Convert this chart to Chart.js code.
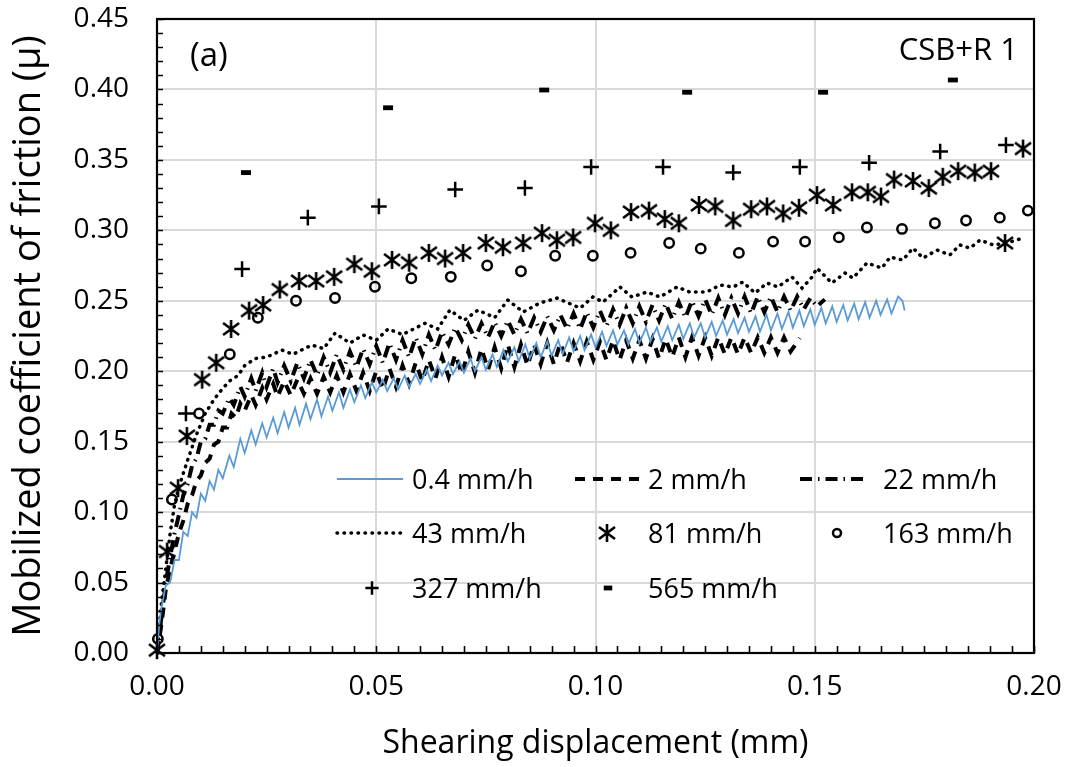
<!DOCTYPE html>
<html>
<head>
<meta charset="utf-8">
<script src="https://cdn.jsdelivr.net/npm/chart.js@4.4.1/dist/chart.umd.min.js"></script>
<style>
  html, body { margin: 0; padding: 0; background: #fff; }
  #chart { display: block; }
</style>
</head>
<body>
<canvas id="chart" width="1069" height="767"></canvas>
<script>
// rate labels
const rateLabels = ['0.4 mm/h', '2 mm/h', '22 mm/h', '43 mm/h', '81 mm/h', '163 mm/h', '327 mm/h', '565 mm/h'];

// 0.4 mm/h (blue, stick-slip sawtooth) [x, mu]
const rate04 = [[0, 0], [0.0005, 0.020], [0.001, 0.032], [0.002, 0.048], [0.003, 0.050], [0.004, 0.066], [0.005, 0.066],
    [0.006, 0.086], [0.007, 0.083], [0.008, 0.100], [0.009, 0.096], [0.010, 0.113], [0.011, 0.108], [0.012, 0.122],
    [0.013, 0.116], [0.014, 0.130], [0.015, 0.124], [0.0165, 0.140], [0.0175, 0.132], [0.019, 0.152], [0.020, 0.142],
    [0.0215, 0.158], [0.0225, 0.148], [0.024, 0.163], [0.025, 0.153], [0.0265, 0.167], [0.0275, 0.156], [0.029, 0.171],
    [0.030, 0.160], [0.0315, 0.174], [0.0325, 0.162], [0.034, 0.177], [0.035, 0.166], [0.0365, 0.180], [0.0375, 0.168],
    [0.039, 0.182], [0.040, 0.172], [0.0415, 0.185], [0.0425, 0.174], [0.044, 0.187], [0.045, 0.178], [0.0465, 0.190],
    [0.0475, 0.181], [0.049, 0.192], [0.050, 0.185], [0.0515, 0.194], [0.0525, 0.186], [0.054, 0.195], [0.055, 0.187],
    [0.0565, 0.197], [0.0575, 0.189], [0.059, 0.198], [0.060, 0.191], [0.0615, 0.201], [0.0625, 0.193], [0.064, 0.204],
    [0.065, 0.197], [0.0665, 0.206], [0.0675, 0.198], [0.069, 0.207], [0.070, 0.199], [0.0715, 0.209], [0.0725, 0.200],
    [0.074, 0.210], [0.075, 0.201], [0.0765, 0.212], [0.0775, 0.203], [0.079, 0.215], [0.080, 0.207], [0.0815, 0.217],
    [0.0825, 0.207], [0.084, 0.219], [0.085, 0.209], [0.0865, 0.220], [0.0875, 0.210], [0.089, 0.221], [0.090, 0.211],
    [0.0915, 0.222], [0.0925, 0.212], [0.094, 0.224], [0.095, 0.214], [0.0965, 0.225], [0.0975, 0.215], [0.099, 0.226],
    [0.100, 0.217], [0.1015, 0.228], [0.1025, 0.218], [0.104, 0.229], [0.105, 0.219], [0.1065, 0.229], [0.1075, 0.219],
    [0.109, 0.230], [0.110, 0.220], [0.1115, 0.231], [0.1125, 0.221], [0.114, 0.231], [0.115, 0.221], [0.1165, 0.232],
    [0.1175, 0.222], [0.119, 0.233], [0.120, 0.223], [0.1215, 0.234], [0.1225, 0.224], [0.124, 0.234], [0.125, 0.224],
    [0.1265, 0.235], [0.1275, 0.225], [0.129, 0.236], [0.130, 0.226], [0.1315, 0.237], [0.1325, 0.227], [0.134, 0.238],
    [0.135, 0.228], [0.1365, 0.239], [0.1375, 0.228], [0.139, 0.240], [0.140, 0.229], [0.1415, 0.241], [0.1425, 0.230],
    [0.144, 0.242], [0.145, 0.231], [0.1465, 0.243], [0.1475, 0.232], [0.149, 0.244], [0.150, 0.233], [0.1515, 0.245],
    [0.1525, 0.234], [0.154, 0.246], [0.155, 0.235], [0.1565, 0.247], [0.1575, 0.236], [0.159, 0.248], [0.160, 0.237],
    [0.1615, 0.249], [0.1625, 0.238], [0.164, 0.250], [0.165, 0.240], [0.1665, 0.251], [0.1675, 0.241], [0.169, 0.253],
    [0.170, 0.250], [0.1705, 0.243]];

// 2 mm/h (dashed)
const rate2 = [[0, 0], [0.001, 0.020], [0.002, 0.045], [0.003, 0.060], [0.004, 0.072], [0.005, 0.085], [0.006, 0.094],
    [0.007, 0.106], [0.008, 0.112], [0.009, 0.122], [0.010, 0.126], [0.011, 0.135], [0.012, 0.138], [0.013, 0.148],
    [0.014, 0.150], [0.015, 0.160], [0.016, 0.160], [0.017, 0.170], [0.018, 0.167], [0.019, 0.177], [0.020, 0.172],
    [0.0215, 0.183], [0.0225, 0.176], [0.024, 0.188], [0.025, 0.180], [0.0265, 0.191], [0.0275, 0.182], [0.029, 0.193],
    [0.0305, 0.183], [0.032, 0.194], [0.0335, 0.184], [0.035, 0.195], [0.0365, 0.184], [0.038, 0.196], [0.0395, 0.185],
    [0.041, 0.197], [0.0425, 0.185], [0.044, 0.198], [0.0455, 0.186], [0.047, 0.199], [0.0485, 0.186], [0.050, 0.200],
    [0.0515, 0.187], [0.053, 0.202], [0.0545, 0.189], [0.056, 0.204], [0.0575, 0.191], [0.059, 0.206], [0.0605, 0.193],
    [0.062, 0.208], [0.0635, 0.195], [0.065, 0.210], [0.0665, 0.196], [0.068, 0.212], [0.0695, 0.198], [0.071, 0.214],
    [0.0725, 0.199], [0.074, 0.216], [0.0755, 0.201], [0.077, 0.217], [0.0785, 0.202], [0.080, 0.219], [0.0815, 0.203],
    [0.083, 0.219], [0.0845, 0.204], [0.086, 0.219], [0.0875, 0.205], [0.089, 0.220], [0.0905, 0.205], [0.092, 0.220],
    [0.0935, 0.206], [0.095, 0.220], [0.0965, 0.207], [0.098, 0.221], [0.0995, 0.208], [0.101, 0.221], [0.1025, 0.208],
    [0.104, 0.222], [0.1055, 0.208], [0.107, 0.222], [0.1085, 0.209], [0.110, 0.222], [0.1115, 0.209], [0.113, 0.223],
    [0.1145, 0.209], [0.116, 0.223], [0.1175, 0.210], [0.119, 0.224], [0.1205, 0.210], [0.122, 0.224], [0.1235, 0.211],
    [0.125, 0.224], [0.1265, 0.211], [0.128, 0.224], [0.1295, 0.212], [0.131, 0.224], [0.1325, 0.212], [0.134, 0.224],
    [0.1355, 0.213], [0.137, 0.224], [0.1385, 0.213], [0.140, 0.224], [0.1415, 0.213], [0.143, 0.224], [0.1445, 0.214],
    [0.1466, 0.2235]];

// 22 mm/h (dash-dot)
const rate22 = [[0, 0], [0.001, 0.025], [0.002, 0.050], [0.003, 0.068], [0.004, 0.085], [0.005, 0.098], [0.006, 0.112],
    [0.007, 0.120], [0.008, 0.133], [0.009, 0.138], [0.010, 0.150], [0.011, 0.152], [0.012, 0.162], [0.013, 0.162],
    [0.014, 0.172], [0.015, 0.170], [0.0165, 0.181], [0.0175, 0.176], [0.019, 0.189], [0.020, 0.182], [0.0215, 0.195],
    [0.0225, 0.186], [0.024, 0.199], [0.025, 0.189], [0.0265, 0.202], [0.0275, 0.192], [0.029, 0.204], [0.0305, 0.193],
    [0.032, 0.206], [0.0335, 0.195], [0.035, 0.208], [0.0365, 0.197], [0.038, 0.210], [0.0395, 0.199], [0.041, 0.212],
    [0.0425, 0.201], [0.044, 0.214], [0.0455, 0.203], [0.047, 0.216], [0.0485, 0.205], [0.050, 0.218], [0.0515, 0.206],
    [0.053, 0.220], [0.0545, 0.208], [0.056, 0.222], [0.0575, 0.210], [0.059, 0.224], [0.0605, 0.212], [0.062, 0.226],
    [0.0635, 0.215], [0.065, 0.228], [0.0665, 0.219], [0.068, 0.231], [0.0695, 0.222], [0.071, 0.233], [0.0725, 0.223],
    [0.074, 0.234], [0.0755, 0.224], [0.077, 0.235], [0.0785, 0.225], [0.080, 0.236], [0.0815, 0.226], [0.083, 0.237],
    [0.0845, 0.227], [0.086, 0.238], [0.0875, 0.228], [0.089, 0.239], [0.0905, 0.229], [0.092, 0.240], [0.0935, 0.230],
    [0.095, 0.241], [0.0965, 0.230], [0.098, 0.242], [0.0995, 0.231], [0.101, 0.243], [0.1025, 0.232], [0.104, 0.244],
    [0.1055, 0.233], [0.107, 0.245], [0.1085, 0.234], [0.110, 0.246], [0.1115, 0.235], [0.113, 0.247], [0.1145, 0.236],
    [0.116, 0.248], [0.1175, 0.237], [0.119, 0.249], [0.1205, 0.238], [0.122, 0.250], [0.1235, 0.239], [0.125, 0.251],
    [0.1265, 0.240], [0.128, 0.252], [0.1295, 0.240], [0.131, 0.252], [0.1325, 0.241], [0.134, 0.253], [0.1355, 0.241],
    [0.137, 0.253], [0.1385, 0.242], [0.140, 0.253], [0.1415, 0.242], [0.143, 0.253], [0.1445, 0.243], [0.146, 0.253],
    [0.1475, 0.244], [0.149, 0.252], [0.1505, 0.246], [0.1523, 0.251]];

// 43 mm/h (dotted)
const rate43 = [[0, 0], [0.001, 0.035], [0.002, 0.060], [0.003, 0.085], [0.004, 0.105], [0.005, 0.118], [0.007, 0.137],
    [0.009, 0.155], [0.011, 0.170], [0.013, 0.180], [0.0148, 0.187], [0.0165, 0.193], [0.0185, 0.197], [0.020, 0.204],
    [0.0224, 0.209], [0.025, 0.210], [0.0285, 0.215], [0.031, 0.212], [0.0353, 0.2186], [0.038, 0.216], [0.0406, 0.227],
    [0.044, 0.220], [0.047, 0.2257], [0.050, 0.222], [0.0527, 0.230], [0.056, 0.226], [0.0611, 0.234], [0.064, 0.230],
    [0.0668, 0.2434], [0.070, 0.236], [0.0732, 0.2434], [0.077, 0.238], [0.080, 0.2505], [0.0835, 0.242], [0.0873, 0.2484],
    [0.0912, 0.2519], [0.0965, 0.2448], [0.0994, 0.2527], [0.1017, 0.2491], [0.1056, 0.2598], [0.1083, 0.2527],
    [0.1117, 0.2562], [0.1147, 0.2527], [0.1186, 0.2598], [0.1215, 0.2562], [0.1254, 0.2562], [0.1284, 0.2612],
    [0.1314, 0.2598], [0.1336, 0.2633], [0.1364, 0.2555], [0.1391, 0.2626], [0.1416, 0.2598], [0.1448, 0.2669],
    [0.1471, 0.259], [0.1494, 0.2669], [0.1505, 0.2732], [0.1539, 0.2626], [0.1569, 0.2697], [0.1587, 0.2661],
    [0.1619, 0.2768], [0.1653, 0.2732], [0.1672, 0.281], [0.1701, 0.2789], [0.1724, 0.2874], [0.1747, 0.2803],
    [0.1779, 0.286], [0.1808, 0.2825], [0.1831, 0.2896], [0.1854, 0.2874], [0.1877, 0.2931], [0.1907, 0.2896],
    [0.1938, 0.291], [0.1975, 0.2945]];

// 81 mm/h (asterisk markers)
const rate81 = [[0.0, 0.002], [0.0023, 0.072], [0.0048, 0.117], [0.0068, 0.154], [0.0103, 0.194], [0.0135, 0.206],
    [0.0169, 0.230], [0.021, 0.243], [0.0242, 0.247], [0.028, 0.258], [0.0324, 0.264], [0.0363, 0.264], [0.0404, 0.267],
    [0.045, 0.276], [0.049, 0.271], [0.0536, 0.279], [0.0575, 0.277], [0.062, 0.284], [0.0657, 0.280], [0.0698, 0.284],
    [0.075, 0.291], [0.0789, 0.288], [0.0835, 0.291], [0.0878, 0.298], [0.0912, 0.293], [0.0949, 0.295], [0.0999, 0.305],
    [0.1035, 0.300], [0.1081, 0.313], [0.1122, 0.314], [0.1158, 0.308], [0.119, 0.305], [0.1236, 0.318], [0.1273, 0.317],
    [0.1314, 0.307], [0.1355, 0.315], [0.1391, 0.317], [0.1428, 0.312], [0.1464, 0.316], [0.1505, 0.325], [0.1542, 0.318],
    [0.1585, 0.327], [0.1621, 0.327], [0.1651, 0.324], [0.1681, 0.336], [0.1724, 0.335], [0.176, 0.330], [0.1792, 0.338],
    [0.1827, 0.342], [0.1865, 0.341], [0.1902, 0.342], [0.1934, 0.291], [0.1975, 0.358]];

// 163 mm/h (open circles)
const rate163 = [[0.0002, 0.010], [0.0034, 0.109], [0.0096, 0.170], [0.0166, 0.212], [0.023, 0.238], [0.0317, 0.250],
    [0.0406, 0.252], [0.0497, 0.260], [0.058, 0.266], [0.067, 0.267], [0.0753, 0.275], [0.083, 0.271], [0.0908, 0.282],
    [0.0994, 0.282], [0.108, 0.284], [0.1168, 0.291], [0.124, 0.287], [0.1327, 0.284], [0.1405, 0.292], [0.1478, 0.292],
    [0.1555, 0.295], [0.1619, 0.302], [0.1699, 0.301], [0.1774, 0.305], [0.1845, 0.307], [0.1922, 0.309], [0.1986, 0.314]];

// 327 mm/h (plus markers)
const rate327 = [[0.0066, 0.170], [0.0194, 0.2725], [0.0344, 0.309], [0.0506, 0.317], [0.068, 0.329], [0.0839, 0.330],
    [0.099, 0.345], [0.1154, 0.345], [0.1314, 0.341], [0.1466, 0.345], [0.1624, 0.348], [0.1786, 0.356], [0.1936, 0.3605]];

// 565 mm/h (dash markers)
const rate565 = [[0.0203, 0.341], [0.0527, 0.387], [0.0883, 0.3996], [0.1209, 0.398], [0.1519, 0.398], [0.1815, 0.4067]];

const xMin = 0, xMax = 0.20, xStep = 0.05, xMinor = 0.005;
const yMin = 0, yMax = 0.45, yStep = 0.05, yMinor = 0.01;

const FONT = "'Open Sans', sans-serif";
const toXY = arr => arr.map(p => ({x: p[0], y: p[1]}));

function makeAsterisk() {
    const c = document.createElement('canvas');
    c.width = 20; c.height = 20;
    const g = c.getContext('2d');
    g.strokeStyle = '#000';
    g.lineWidth = 2.6;
    g.beginPath();
    g.moveTo(2, 4); g.lineTo(18, 16);
    g.moveTo(18, 4); g.lineTo(2, 16);
    g.moveTo(10, 1); g.lineTo(10, 19);
    g.stroke();
    return c;
}
const asterisk = makeAsterisk();

function lineSet(label, data, color, width, dash) {
    return {label, data: toXY(data), showLine: true, borderColor: color, borderWidth: width, borderDash: dash,
            borderCapStyle: dash.length === 2 && dash[0] < 1 ? 'round' : 'butt', pointRadius: 0, tension: 0, fill: false};
}
function pointSet(label, data, style, radius, width) {
    return {label, data: toXY(data), showLine: false, pointStyle: style, pointRadius: radius, pointHoverRadius: radius,
            pointBorderWidth: width, pointBorderColor: '#000', pointBackgroundColor: 'rgba(0,0,0,0)', clip: 10};
}

const datasets = [
    lineSet(rateLabels[0], rate04, '#5b9bd5', 1.8, []),
    lineSet(rateLabels[1], rate2, '#000', 4, [10, 8]),
    lineSet(rateLabels[2], rate22, '#000', 4, [12, 6, 1.5, 6]),
    lineSet(rateLabels[3], rate43, '#000', 3.5, [0.5, 6.5]),
    pointSet(rateLabels[4], rate81, asterisk, 9, 2.5),
    pointSet(rateLabels[5], rate163, 'circle', 4.7, 2.5),
    pointSet(rateLabels[6], rate327, 'cross', 7.8, 2.5),
    pointSet(rateLabels[7], rate565, 'line', 5, 4.8)
];

// legend slots: [sample centre x, text x, row baseline]
const legendSlots = [[370, 412, 489], [608, 648, 489], [833, 883, 489],
                     [370, 412, 543], [607, 648, 543], [837, 883, 543],
                     [372, 412, 598], [608, 648, 598]];

const framePlugin = {
    id: 'frame',
    afterDatasetsDraw(chart) {
        const {ctx, chartArea: a, scales: {x, y}} = chart;
        ctx.save();
        ctx.strokeStyle = '#000';
        ctx.lineWidth = 1.6;
        ctx.beginPath();
        for (let v = xMin; v <= xMax + 1e-9; v += xMinor) {
            const px = Math.round(x.getPixelForValue(v)) + 0.5;
            ctx.moveTo(px, a.bottom); ctx.lineTo(px, a.bottom - 7);
        }
        for (let v = yMin; v <= yMax + 1e-9; v += yMinor) {
            const py = Math.round(y.getPixelForValue(v)) + 0.5;
            ctx.moveTo(a.left, py); ctx.lineTo(a.left + 6, py);
        }
        ctx.stroke();
        ctx.lineWidth = 2.2;
        ctx.strokeRect(a.left, a.top, a.right - a.left, a.bottom - a.top);
        ctx.restore();
    },
    afterDraw(chart) {
        const ctx = chart.ctx;
        ctx.save();
        ctx.fillStyle = '#000';
        ctx.textBaseline = 'alphabetic';
        ctx.font = `33px ${FONT}`;
        ctx.textAlign = 'left';
        ctx.fillText('(a)', 190, 66);
        ctx.font = `31px ${FONT}`;
        ctx.textAlign = 'right';
        ctx.fillText('CSB+R 1', 1018, 60);

        ctx.font = `27px ${FONT}`;
        ctx.textAlign = 'left';
        chart.data.datasets.forEach((ds, i) => {
            const [sx, tx, by] = legendSlots[i];
            const cy = by - 10;
            if (ds.showLine) {
                ctx.save();
                ctx.strokeStyle = ds.borderColor;
                ctx.lineWidth = ds.borderWidth;
                ctx.setLineDash(ds.borderDash);
                ctx.lineCap = ds.borderCapStyle;
                ctx.beginPath();
                ctx.moveTo(sx - 33, cy); ctx.lineTo(sx + 33, cy);
                ctx.stroke();
                ctx.restore();
            } else {
                ctx.save();
                ctx.strokeStyle = '#000';
                ctx.fillStyle = 'rgba(0,0,0,0)';
                ctx.lineWidth = ds.pointBorderWidth;
                Chart.helpers.drawPoint(ctx, {pointStyle: ds.pointStyle, radius: ds.pointRadius * 0.85,
                    borderWidth: ds.pointBorderWidth, rotation: 0}, sx, cy);
                ctx.restore();
            }
            ctx.fillStyle = '#000';
            ctx.fillText(ds.label, tx, by);
        });
        ctx.restore();
    }
};

new Chart(document.getElementById('chart'), {
    type: 'scatter',
    data: {datasets},
    options: {
        responsive: false,
        animation: false,
        devicePixelRatio: 1,
        layout: {padding: {left: 0, right: 35, top: 19, bottom: 0}},
        plugins: {legend: {display: false}, tooltip: {enabled: false}},
        scales: {
            x: {
                type: 'linear', min: xMin, max: xMax,
                afterFit: s => { s.height = 114; s.paddingLeft = 0; s.paddingRight = 0; },
                ticks: {stepSize: xStep, padding: 17, color: '#000', font: {family: FONT, size: 28},
                        callback: v => v.toFixed(2), maxRotation: 0},
                grid: {color: '#d9d9d9', lineWidth: 2, drawTicks: false},
                border: {display: false},
                title: {display: true, text: 'Shearing displacement (mm)', color: '#000',
                        font: {family: FONT, size: 32}, padding: {bottom: 4}}
            },
            y: {
                type: 'linear', min: yMin, max: yMax,
                afterFit: s => { s.width = 157; s.paddingTop = 0; s.paddingBottom = 0; },
                ticks: {stepSize: yStep, padding: 28, color: '#000', font: {family: FONT, size: 28},
                        callback: v => v.toFixed(2)},
                grid: {color: '#d9d9d9', lineWidth: 2, drawTicks: false},
                border: {display: false},
                title: {display: true, text: 'Mobilized coefficient of friction (μ)', color: '#000',
                        font: {family: FONT, size: 38}, padding: {top: 6}}
            }
        }
    },
    plugins: [framePlugin]
});
</script>
</body>
</html>
